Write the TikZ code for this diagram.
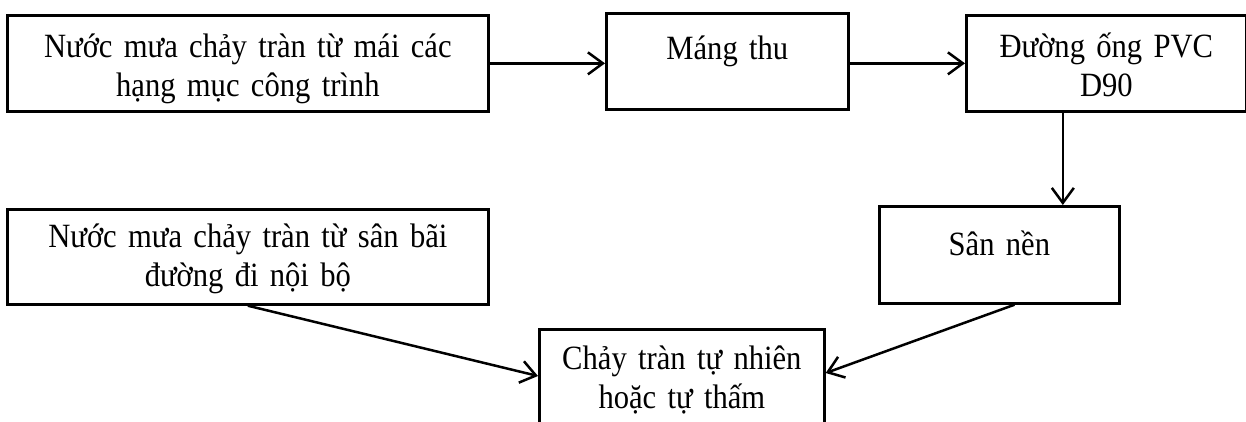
\documentclass[tikz,border=0pt]{standalone}
\usepackage{fontspec}
\setmainfont{Liberation Serif}[FakeStretch=0.9,WordSpace=0.85]
\usetikzlibrary{arrows.meta,calc}
\tikzset{
  bx/.style n args={4}{draw, line width=2.7pt, inner sep=0pt, anchor=north west,
    align=center, text width=#1, text height=#3, text depth=#2-#3,
    font=\fontsize{34}{39}\selectfont},
  conn/.style={line width=2.5pt, -{Straight Barb[length=15pt,width=22pt,line width=2.5pt]}}
}
\begin{document}
\begin{tikzpicture}[x=1pt,y=-1pt]
\useasboundingbox (0,0) rectangle (1246,421);
\node[bx={481pt}{96pt}{42pt}{}] (b1) at (6,14) {Nước mưa chảy tràn từ mái các\\hạng mục công trình};
\node[bx={242pt}{96pt}{46pt}{}] (b2) at (605,12) {Máng thu};
\node[bx={280pt}{96pt}{42pt}{}] (b3) at (965,14) {Đường ống PVC\\D90};
\node[bx={240pt}{97pt}{49pt}{}] (b5) at (878,205) {Sân nền};
\node[bx={481pt}{95pt}{38pt}{}] (b4) at (6,208) {Nước mưa chảy tràn từ sân bãi\\đường đi nội bộ};
\node[bx={285pt}{110pt}{40pt}{}] (b6) at (538,328) {Chảy tràn tự nhiên\\hoặc tự thấm};
\coordinate (p3) at ($(b3.south west)!0.346!(b3.south east)$);
\coordinate (p5) at ($(b5.south west)!0.5625!(b5.south east)$);
\coordinate (e6r) at ($(b6.north east)+(0,45)$);
\coordinate (e6l) at ($(b6.north west)+(0,48)$);
\draw[conn] (b1.east) -- (b1.east -| b2.west);
\draw[conn] (b2.east |- b1.east) -- (b1.east -| b3.west);
\draw[conn] (p3) -- (p3 |- b5.north);
\draw[conn] (p5) -- (e6r);
\draw[conn] (b4.south) -- (e6l);
\end{tikzpicture}
\end{document}
